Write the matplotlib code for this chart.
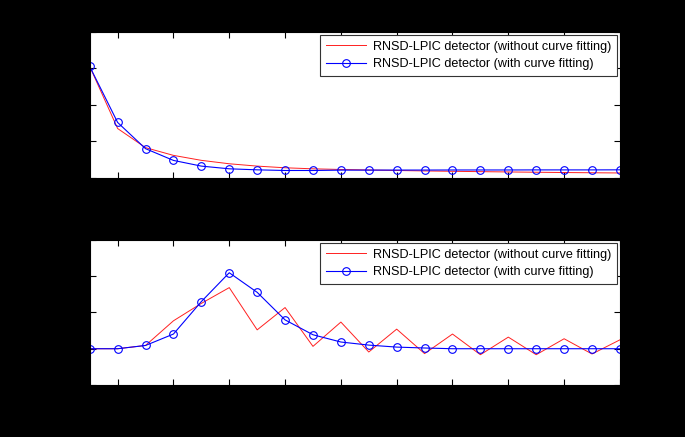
import numpy as np
import matplotlib
matplotlib.use("Agg")
import matplotlib.pyplot as plt

plt.rcParams['font.family'] = ['Liberation Sans', 'DejaVu Sans']

# ---- DATA ----
stages = list(range(1, 21))

# top panel
top_no_fit = [0.1526, 0.0676, 0.0414, 0.0308, 0.0240, 0.0193, 0.0161, 0.0138, 0.0124, 0.0115,
              0.0108, 0.0101, 0.0095, 0.0090, 0.0085, 0.0081, 0.0077, 0.0073, 0.0070, 0.0067]
top_fit = [0.1526, 0.0759, 0.0400, 0.0239, 0.0161, 0.0124, 0.0110, 0.0101, 0.0101, 0.0106,
           0.0106, 0.0107, 0.0107, 0.0108, 0.0108, 0.0108, 0.0109, 0.0109, 0.0109, 0.0110]

# bottom panel
bot_no_fit = [0.0, 0.0, 0.018, 0.154, 0.25, 0.337, 0.104, 0.227, 0.013, 0.147,
              -0.018, 0.108, -0.027, 0.081, -0.033, 0.064, -0.033, 0.055, -0.029, 0.049]
bot_fit = [0.0, 0.0, 0.018, 0.081, 0.26, 0.419, 0.311, 0.159, 0.077, 0.037,
           0.020, 0.009, 0.004, 0.0, 0.0, 0.0, 0.0, 0.0, 0.0, 0.0]

top_yticks = [0, 0.05, 0.1, 0.15, 0.2]
bot_yticks = [-0.2, 0, 0.2, 0.4, 0.6]
xticks = list(range(2, 21, 2))

lbl_no_fit = "RNSD-LPIC detector (without curve fitting)"
lbl_fit = "RNSD-LPIC detector (with curve fitting)"

# ---- PLOT ----
fig = plt.figure(figsize=(6.85, 4.37), dpi=100, facecolor='black')
ax1 = fig.add_axes([0.131, 0.593, 0.774, 0.334])
ax2 = fig.add_axes([0.131, 0.119, 0.774, 0.332])

panels = [
    (ax1, top_no_fit, top_fit, top_yticks, "RMSE"),
    (ax2, bot_no_fit, bot_fit, bot_yticks, "Bias"),
]

for ax, no_fit, fit, yt, ylab in panels:
    ax.set_facecolor('white')
    ax.plot(stages, no_fit, color='#ff2020', lw=0.7, label=lbl_no_fit)
    ax.plot(stages, fit, color='blue', lw=0.8, marker='o', ms=5.5,
            mfc='none', mew=0.8, label=lbl_fit)
    ax.set_xlim(1, 20)
    ax.set_ylim(yt[0], yt[-1])
    ax.set_xticks(xticks)
    ax.set_yticks(yt)
    ax.tick_params(direction='in', length=4, top=True, right=True,
                   labelsize=8, colors='black')
    ax.set_xlabel("LPIC Stages", fontsize=8, color='black')
    ax.set_ylabel(ylab, fontsize=8, color='black')
    for s in ax.spines.values():
        s.set_color('black')
        s.set_linewidth(0.8)
    leg = ax.legend(loc='upper right', fontsize=9.1, handlelength=3.2,
                    borderpad=0.45, labelspacing=0.45, handletextpad=0.5,
                    fancybox=False, framealpha=1, borderaxespad=0.25)
    leg.get_frame().set_edgecolor('#333333')
    leg.get_frame().set_linewidth(0.8)

fig.savefig("out.png", dpi=100, facecolor='black')
